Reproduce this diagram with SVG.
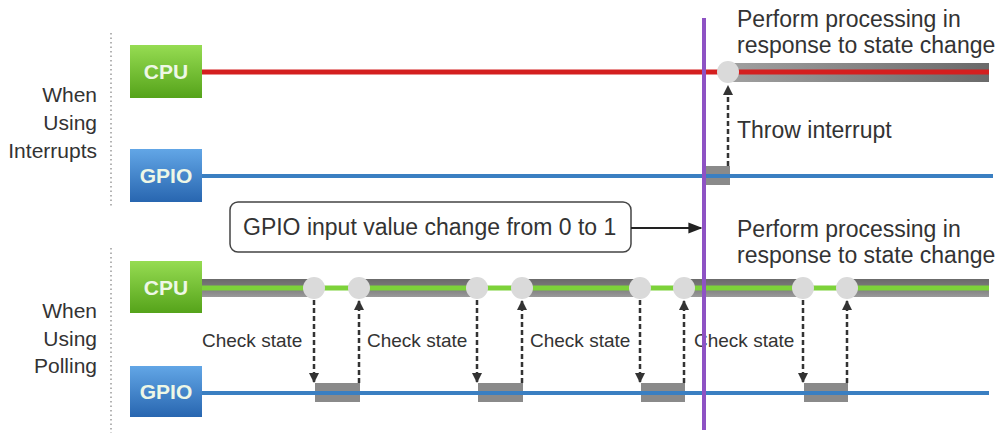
<svg xmlns="http://www.w3.org/2000/svg" width="1001" height="433" viewBox="0 0 1001 433">
  <defs>
    <linearGradient id="gGreen" x1="0" y1="0" x2="0" y2="1">
      <stop offset="0" stop-color="#96dc52"/>
      <stop offset="1" stop-color="#55a31a"/>
    </linearGradient>
    <linearGradient id="gBlue" x1="0" y1="0" x2="0" y2="1">
      <stop offset="0" stop-color="#62a6e6"/>
      <stop offset="1" stop-color="#2866b0"/>
    </linearGradient>
    <linearGradient id="gBar" x1="0" y1="0" x2="0" y2="1">
      <stop offset="0" stop-color="#6a6a6a"/>
      <stop offset="0.5" stop-color="#7c7c7c"/>
      <stop offset="1" stop-color="#9a9a9a"/>
    </linearGradient>
    <linearGradient id="gBarTop" x1="0" y1="0" x2="1" y2="0">
      <stop offset="0" stop-color="#a0a0a0"/>
      <stop offset="1" stop-color="#6a6a6a"/>
    </linearGradient>
    <marker id="ah" viewBox="0 0 10 10" refX="9" refY="5" markerWidth="4" markerHeight="4" orient="auto">
      <path d="M0,0 L10,5 L0,10 Z" fill="#333"/>
    </marker>
    <marker id="ah2" viewBox="0 0 10 10" refX="9" refY="5" markerWidth="7" markerHeight="7" orient="auto">
      <path d="M0,1 L10,5 L0,9 Z" fill="#222"/>
    </marker>
  </defs>
  <style>
    .lbl { font-family: "Liberation Sans", Arial, sans-serif; font-size: 21px; fill: #333; }
    .big { font-family: "Liberation Sans", Arial, sans-serif; font-size: 23px; fill: #333; }
    .chk { font-family: "Liberation Sans", Arial, sans-serif; font-size: 19px; fill: #333; }
    .box { font-family: "Liberation Sans", Arial, sans-serif; font-size: 21px; font-weight: bold; fill: #eef7e6; text-anchor: middle; }
    .sep { stroke: #9a9a9a; stroke-width: 1.5; stroke-dasharray: 1.5 3; fill: none; }
    .red { stroke: #d41f1f; stroke-width: 5; }
    .grn { stroke: #7dd23a; stroke-width: 5; }
    .blu { stroke: #3a7fc2; stroke-width: 4; }
    .bar { fill: url(#gBar); }
    .blk { fill: #8a8a8a; }
    .dot { fill: #dadada; }
    .dash { stroke: #333; stroke-width: 2.5; stroke-dasharray: 5 3; fill: none; }
  </style>
  <rect width="1001" height="433" fill="#ffffff"/>

  <!-- separators -->
  <line class="sep" x1="111" y1="33" x2="111" y2="207"/>
  <line class="sep" x1="111" y1="248" x2="111" y2="433"/>

  <!-- side labels -->
  <g id="label-interrupts">
    <text class="lbl" x="97" y="102" text-anchor="end">When</text>
    <text class="lbl" x="97" y="130" text-anchor="end">Using</text>
    <text class="lbl" x="97" y="158" text-anchor="end">Interrupts</text>
  </g>
  <g id="label-polling">
    <text class="lbl" x="97" y="318" text-anchor="end">When</text>
    <text class="lbl" x="97" y="346" text-anchor="end">Using</text>
    <text class="lbl" x="97" y="373" text-anchor="end">Polling</text>
  </g>

  <!-- interrupt timeline -->
  <g id="int-cpu-line">
    <rect x="728" y="63" width="261" height="19" fill="url(#gBarTop)"/>
    <line class="red" x1="202" y1="72" x2="989" y2="72"/>
    <circle class="dot" cx="728" cy="72" r="11"/>
  </g>
  <g id="int-gpio-line">
    <rect class="blk" x="706" y="166" width="24" height="19"/>
    <line class="blu" x1="202" y1="176" x2="993" y2="176"/>
  </g>
  <g id="int-cpu">
    <rect x="130" y="45" width="72" height="53" fill="url(#gGreen)"/>
    <text class="box" x="166" y="79">CPU</text>
  </g>
  <g id="int-gpio">
    <rect x="130" y="149" width="72" height="53" fill="url(#gBlue)"/>
    <text class="box" x="166" y="183">GPIO</text>
  </g>

  <!-- polling timeline -->
  <g id="poll-cpu-line">
    <rect class="bar" x="202" y="279" width="112" height="18"/>
    <rect class="bar" x="359" y="279" width="118" height="18"/>
    <rect class="bar" x="522" y="279" width="118" height="18"/>
    <rect class="bar" x="684" y="279" width="119" height="18"/>
    <rect class="bar" x="847" y="279" width="142" height="18"/>
    <line class="grn" x1="202" y1="288" x2="989" y2="288"/>
    <circle class="dot" cx="314" cy="288" r="11"/>
    <circle class="dot" cx="359" cy="288" r="11"/>
    <circle class="dot" cx="477" cy="288" r="11"/>
    <circle class="dot" cx="522" cy="288" r="11"/>
    <circle class="dot" cx="640" cy="288" r="11"/>
    <circle class="dot" cx="684" cy="288" r="11"/>
    <circle class="dot" cx="803" cy="288" r="11"/>
    <circle class="dot" cx="847" cy="288" r="11"/>
  </g>
  <g id="poll-gpio-line">
    <rect class="blk" x="315" y="383" width="45" height="19"/>
    <rect class="blk" x="478" y="383" width="45" height="19"/>
    <rect class="blk" x="641" y="383" width="44" height="19"/>
    <rect class="blk" x="804" y="383" width="44" height="19"/>
    <line class="blu" x1="202" y1="393" x2="989" y2="393"/>
  </g>
  <g id="poll-cpu">
    <rect x="130" y="261" width="72" height="52" fill="url(#gGreen)"/>
    <text class="box" x="166" y="295">CPU</text>
  </g>
  <g id="poll-gpio">
    <rect x="130" y="366" width="72" height="51" fill="url(#gBlue)"/>
    <text class="box" x="166" y="399">GPIO</text>
  </g>

  <!-- callout -->
  <g id="callout">
    <rect x="230" y="202" width="401" height="50" rx="8" ry="8" fill="#fff" stroke="#444" stroke-width="1.5"/>
    <text class="big" x="243" y="235">GPIO input value change from 0 to 1</text>
  </g>

  <!-- texts -->
  <g id="texts">
    <text class="big" x="737" y="27">Perform processing in</text>
    <text class="big" x="737" y="53">response to state change</text>
    <text class="big" x="737" y="138">Throw interrupt</text>
    <text class="big" x="737" y="237">Perform processing in</text>
    <text class="big" x="737" y="263">response to state change</text>
    <text class="chk" x="202" y="347">Check state</text>
    <text class="chk" x="367" y="347">Check state</text>
    <text class="chk" x="530" y="347">Check state</text>
    <text class="chk" x="694" y="347">Check state</text>
  </g>

  <!-- connectors -->
  <g id="connectors">
    <line class="dash" x1="728" y1="166" x2="728" y2="86" marker-end="url(#ah)"/>
    <line class="dash" x1="314" y1="300" x2="314" y2="382" marker-end="url(#ah)"/>
    <line class="dash" x1="359" y1="383" x2="359" y2="301" marker-end="url(#ah)"/>
    <line class="dash" x1="477" y1="300" x2="477" y2="382" marker-end="url(#ah)"/>
    <line class="dash" x1="522" y1="383" x2="522" y2="301" marker-end="url(#ah)"/>
    <line class="dash" x1="640" y1="300" x2="640" y2="382" marker-end="url(#ah)"/>
    <line class="dash" x1="684" y1="383" x2="684" y2="301" marker-end="url(#ah)"/>
    <line class="dash" x1="803" y1="300" x2="803" y2="382" marker-end="url(#ah)"/>
    <line class="dash" x1="847" y1="383" x2="847" y2="301" marker-end="url(#ah)"/>
    <line x1="631" y1="228" x2="701" y2="228" stroke="#222" stroke-width="2" marker-end="url(#ah2)"/>
  </g>

  <!-- event line -->
  <line id="event-line" x1="704" y1="18" x2="704" y2="430" stroke="#8e52c4" stroke-width="4"/>
</svg>
